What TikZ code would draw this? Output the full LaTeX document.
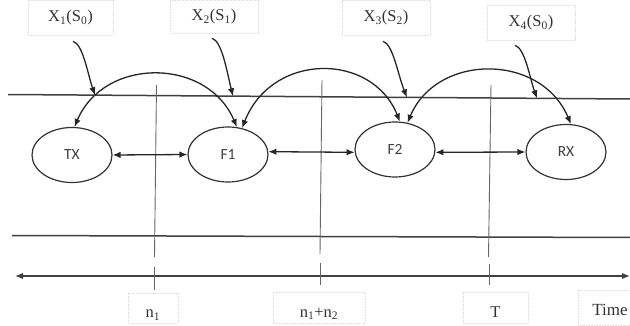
\documentclass[tikz,border=0pt]{standalone}
\usepackage{fontspec}
\setmainfont{Liberation Serif}
\newfontfamily\calib{Carlito}
\usetikzlibrary{arrows.meta,shapes.geometric}
\begin{document}
\begin{tikzpicture}[x=1pt,y=-1pt,
  lbl/.style={draw=gray!25, densely dotted, line width=0.6pt, inner sep=0pt,
    font=\fontsize{16.5}{18}\selectfont, text=black!80},
  ell/.style={ellipse, draw=black!80, line width=1.2pt, minimum width=80pt,
    minimum height=55pt, inner sep=0pt, font=\calib\fontsize{15.5}{18}\selectfont, text=black!75},
  tipa/.style={-{Latex[length=8pt,width=6.5pt]}},
  dtip/.style={{Latex[length=8pt,width=6.5pt]}-{Latex[length=8pt,width=6.5pt]}},
  hline/.style={line width=1.5pt, draw=black!75},
  vline/.style={line width=0.9pt, draw=black!60},
  conn/.style={line width=1.3pt, draw=black!85},
]
\useasboundingbox (0,0) rectangle (630,326);

% horizontal lines
\coordinate (t1) at (8,94.5);   \coordinate (t2) at (630,99);
\coordinate (b1) at (12,235.5); \coordinate (b2) at (630,237.5);
\coordinate (a1) at (15,276);   \coordinate (a2) at (630,276);
\draw[hline] (t1) -- (t2);
\draw[hline] (b1) -- (b2);
\draw[hline,dtip] (a1) -- (a2);

% vertical lines and ticks
\coordinate (v1a) at (156.5,85); \coordinate (v1b) at (154.5,257);
\coordinate (k1a) at (154.5,267); \coordinate (k1b) at (154.5,290);
\coordinate (v2a) at (322,80); \coordinate (v2b) at (320,254);
\coordinate (k2a) at (320,263); \coordinate (k2b) at (320,285);
\coordinate (v3a) at (491,85); \coordinate (v3b) at (488.5,257);
\coordinate (k3a) at (489,264); \coordinate (k3b) at (489,285);
\draw[vline] (v1a) -- (v1b);
\draw[vline] (k1a) -- (k1b);
\draw[vline] (v2a) -- (v2b);
\draw[vline] (k2a) -- (k2b);
\draw[vline] (v3a) -- (v3b);
\draw[vline] (k3a) -- (k3b);

% ellipses
\node[ell] (TX) at (72,155) {TX};
\node[ell] (F1) at (228,154.5) {F1};
\node[ell] (F2) at (395,149.5) {F2};
\node[ell] (RX) at (566,152) {RX};

% double arrows between nodes
\draw[conn,dtip] (TX.east) -- (F1.west);
\draw[conn,dtip] (F1.4) -- (F2.184);
\draw[conn,dtip] (F2.-4) -- (RX.west);

% arcs
\draw[conn,dtip] (TX.85) .. controls (104,57) and (207,57) .. (F1.72);
\draw[conn,dtip] (F1.62) .. controls (272,52) and (372,52) .. (F2.80);
\draw[conn,dtip] (F2.65) .. controls (437,53) and (541,53) .. (RX.80);

% top labels
\node[lbl, minimum width=85pt, minimum height=35pt] (L1) at (70.5,17.5) {X\textsubscript{1}(S\textsubscript{0})};
\node[lbl, minimum width=88pt, minimum height=33pt] (L2) at (214,16.5) {X\textsubscript{2}(S\textsubscript{1})};
\node[lbl, minimum width=88pt, minimum height=35pt] (L3) at (386,17.5) {X\textsubscript{3}(S\textsubscript{2})};
\node[lbl, minimum width=88pt, minimum height=35pt] (L4) at (531,22.5) {X\textsubscript{4}(S\textsubscript{0})};

% label arrows
\coordinate (c1) at (95,95.2);
\coordinate (c2) at (233,96.3);
\coordinate (c3) at (407,97.4);
\coordinate (c4) at (537,98.3);
\draw[conn,tipa] ([xshift=2.5pt,yshift=-6pt]L1.south) .. controls (83,44) and (88,75) .. (c1);
\draw[conn,tipa] ([xshift=-2pt,yshift=-5pt]L2.south) .. controls (222,41) and (227,72) .. (c2);
\draw[conn,tipa] ([xshift=-3pt,yshift=-6pt]L3.south) .. controls (393,44) and (398,75) .. (c3);
\draw[conn,tipa] ([xshift=-16pt,yshift=-5pt]L4.south) .. controls (525,48) and (530,79) .. (c4);

% bottom labels
\node[lbl, minimum width=50pt, minimum height=30pt] (N1) at (153,308) {\raisebox{-4pt}[11pt][0pt]{n\textsubscript{1}}};
\node[lbl, minimum width=92pt, minimum height=31pt] (N2) at (319,307.5) {\raisebox{-4pt}[11pt][0pt]{n\textsubscript{1}+n\textsubscript{2}}};
\node[lbl, minimum width=65pt, minimum height=31pt] (NT) at (495.5,307.5) {\raisebox{-4pt}[11pt][0pt]{T}};
\node[lbl, minimum width=64pt, minimum height=35pt, font=\fontsize{17}{19}\selectfont] (TM) at (610,307.5) {\raisebox{-2pt}[11pt][0pt]{Time}};
\end{tikzpicture}
\end{document}
